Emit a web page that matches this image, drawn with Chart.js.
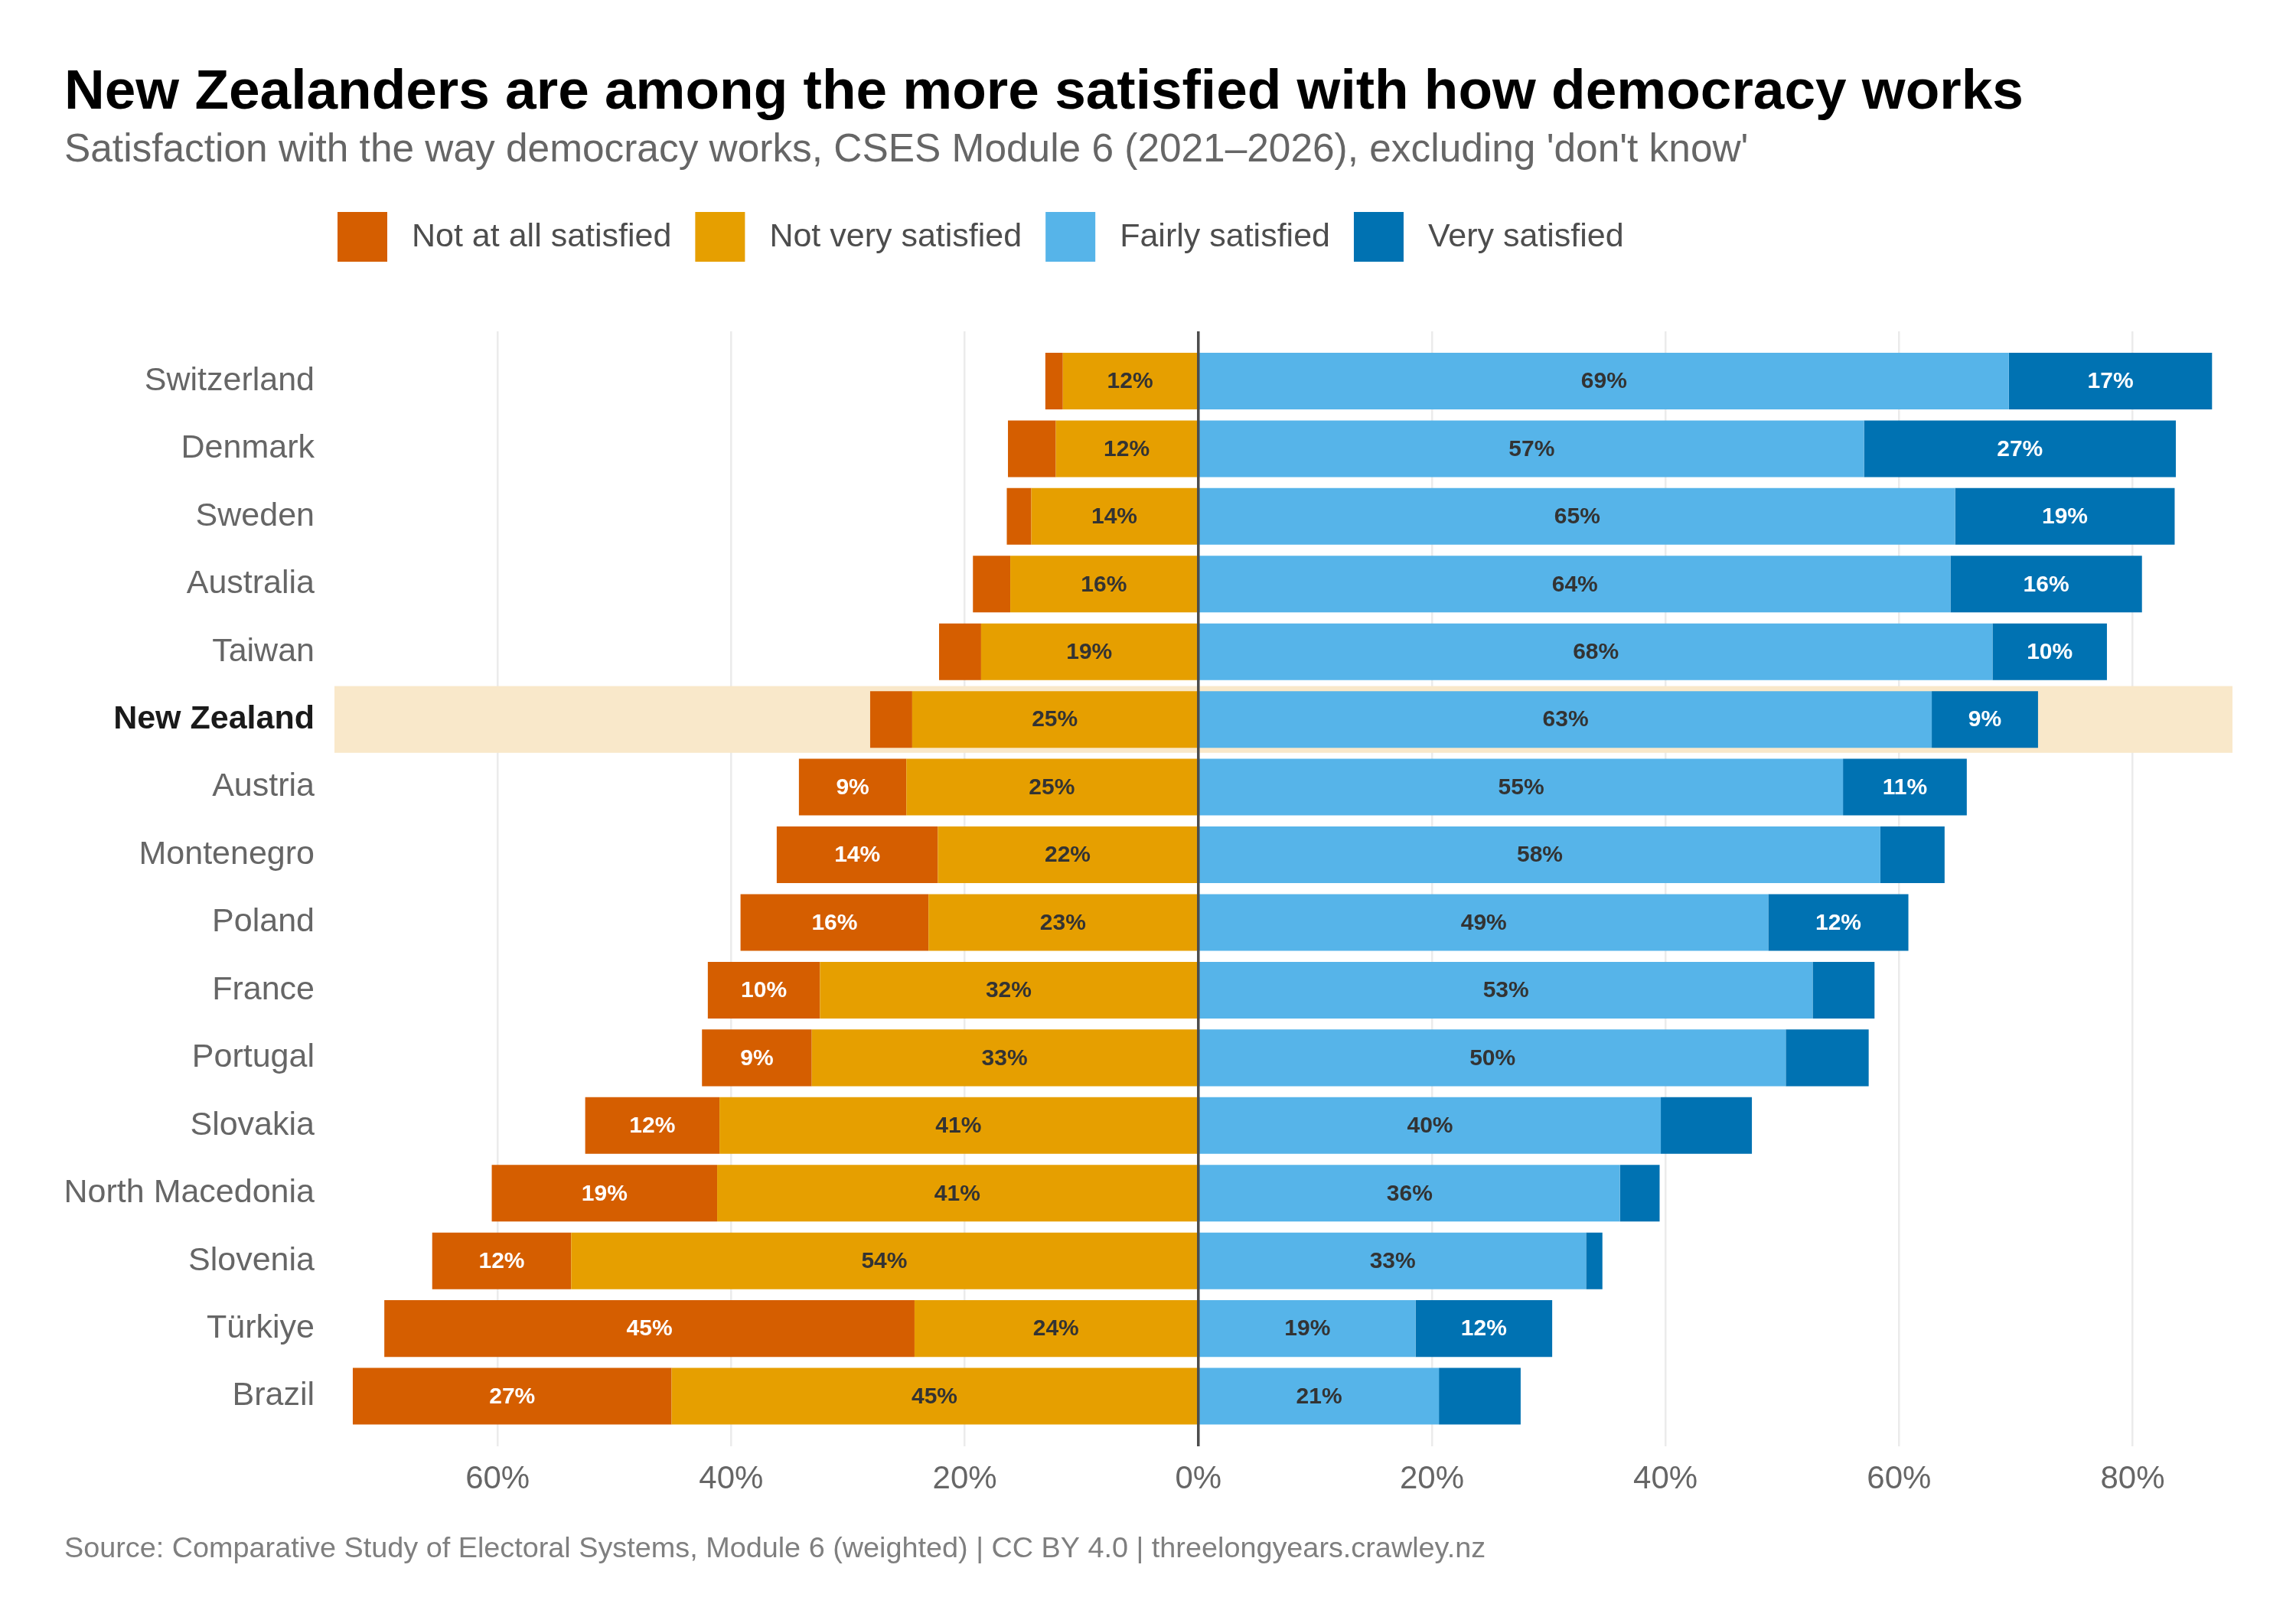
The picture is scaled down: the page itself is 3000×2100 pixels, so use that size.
<!DOCTYPE html>
<html>
<head>
<meta charset="utf-8">
<script src="https://cdn.jsdelivr.net/npm/chart.js@4.4.1/dist/chart.umd.min.js"></script>
<style>
  html, body { margin: 0; padding: 0; background: #ffffff; }
  #wrap { width: 3000px; height: 2100px; position: relative; }
  canvas { display: block; }
</style>
</head>
<body>
<div id="wrap"><canvas id="chart" width="3000" height="2100" style="width:3000px;height:2100px"></canvas></div>
<script>
// ---------------- data ----------------
const countries = ["Switzerland", "Denmark", "Sweden", "Australia", "Taiwan", "New Zealand", "Austria", "Montenegro", "Poland", "France", "Portugal", "Slovakia", "North Macedonia", "Slovenia", "Türkiye", "Brazil"];
const notAtAll  = [1.5, 4.1, 2.1, 3.2, 3.6, 3.6, 9.2, 13.8, 16.1, 9.6, 9.4, 11.5, 19.3, 11.9, 45.4, 27.3];
const notVery   = [11.6, 12.2, 14.3, 16.1, 18.6, 24.5, 25.0, 22.3, 23.1, 32.4, 33.1, 41.0, 41.2, 53.7, 24.3, 45.1];
const fairly    = [69.4, 57.0, 64.8, 64.4, 68.0, 62.8, 55.2, 58.4, 48.8, 52.6, 50.3, 39.6, 36.1, 33.2, 18.6, 20.6];
const very      = [17.4, 26.7, 18.8, 16.4, 9.8, 9.1, 10.6, 5.5, 12.0, 5.3, 7.1, 7.8, 3.4, 1.4, 11.7, 7.0];
const seriesNames  = ["Not at all satisfied", "Not very satisfied", "Fairly satisfied", "Very satisfied"];
const seriesColors = ["#D55E00", "#E69F00", "#56B4E9", "#0072B2"];
const labelColors  = ["#FFFFFF", "#333333", "#333333", "#FFFFFF"];
const xTickValues  = [-60, -40, -20, 0, 20, 40, 60, 80];
const highlightCountry = "New Zealand";

const titleText    = "New Zealanders are among the more satisfied with how democracy works";
const subtitleText = "Satisfaction with the way democracy works, CSES Module 6 (2021\u20132026), excluding 'don't know'";
const captionText  = "Source: Comparative Study of Electoral Systems, Module 6 (weighted) | CC BY 4.0 | threelongyears.crawley.nz";

// ---------------- chart ----------------
const FONT = "'Liberation Sans', Arial, Helvetica, sans-serif";
const hiIndex = countries.indexOf(highlightCountry);
const LABEL_MIN = 8;

function pts(arr, sign) { return arr.map((v, i) => ({ x: sign * v, y: i, raw: v })); }

const datasets = [
  // negative side: first dataset stacks next to zero
  { label: seriesNames[1], data: pts(notVery, -1), backgroundColor: seriesColors[1], sIdx: 1 },
  { label: seriesNames[0], data: pts(notAtAll, -1), backgroundColor: seriesColors[0], sIdx: 0 },
  { label: seriesNames[2], data: pts(fairly, 1), backgroundColor: seriesColors[2], sIdx: 2 },
  { label: seriesNames[3], data: pts(very, 1), backgroundColor: seriesColors[3], sIdx: 3 }
];

const highlightPlugin = {
  id: 'highlightBand',
  beforeDatasetsDraw(chart) {
    const { ctx, chartArea, scales } = chart;
    const y0 = scales.y.getPixelForValue(hiIndex - 0.493);
    const y1 = scales.y.getPixelForValue(hiIndex + 0.493);
    ctx.save();
    ctx.fillStyle = "#F9E8CA";
    ctx.fillRect(chartArea.left, Math.min(y0, y1), chartArea.right - chartArea.left, Math.abs(y1 - y0));
    ctx.restore();
  }
};

const overlayPlugin = {
  id: 'overlay',
  afterDatasetsDraw(chart) {
    const { ctx, chartArea, scales } = chart;
    // zero line
    const x0 = scales.x.getPixelForValue(0);
    ctx.save();
    ctx.strokeStyle = "#4D4D4D";
    ctx.lineWidth = 3.5;
    ctx.beginPath();
    ctx.moveTo(x0, chartArea.top);
    ctx.lineTo(x0, chartArea.bottom);
    ctx.stroke();
    // value labels
    ctx.font = "bold 30px " + FONT;
    ctx.textAlign = "center";
    ctx.textBaseline = "middle";
    chart.data.datasets.forEach((ds, di) => {
      const meta = chart.getDatasetMeta(di);
      meta.data.forEach((bar, i) => {
        const v = ds.data[i].raw;
        if (v < LABEL_MIN) return;
        ctx.fillStyle = labelColors[ds.sIdx];
        ctx.fillText(Math.round(v) + "%", (bar.x + bar.base) / 2, bar.y + 1);
      });
    });
    ctx.restore();
  },
  afterDraw(chart) {
    const { ctx } = chart;
    ctx.save();
    // legend
    const boxTop = 277, box = 65, gapText = 32, gapItem = 31;
    let x = 441;
    ctx.font = "43px " + FONT;
    ctx.textBaseline = "middle";
    ctx.textAlign = "left";
    for (let k = 0; k < seriesNames.length; k++) {
      ctx.fillStyle = seriesColors[k];
      ctx.fillRect(x, boxTop, box, box);
      x += box + gapText;
      ctx.fillStyle = "#4D4D4D";
      ctx.fillText(seriesNames[k], x, boxTop + box / 2 + 1);
      x += ctx.measureText(seriesNames[k]).width + gapItem;
    }
    // caption
    ctx.font = "37.8px " + FONT;
    ctx.fillStyle = "#7F7F7F";
    ctx.textBaseline = "alphabetic";
    ctx.fillText(captionText, 84, 2035);
    ctx.restore();
  }
};

new Chart(document.getElementById('chart'), {
  type: 'bar',
  data: { datasets },
  options: {
    indexAxis: 'y',
    responsive: false,
    animation: false,
    devicePixelRatio: 1,
    categoryPercentage: 1.0,
    barPercentage: 0.837,
    layout: { padding: { left: 84, right: 83, top: 0, bottom: 130 } },
    scales: {
      x: {
        type: 'linear',
        stacked: true,
        offset: false,
        min: -73.97,
        max: 88.55,
        border: { display: false },
        grid: { color: "#EBEBEB", lineWidth: 2.5, drawTicks: false, offset: false },
        ticks: {
          stepSize: 20,
          includeBounds: false,
          padding: 18,
          color: "#666666",
          font: { size: 42, family: FONT },
          callback: (v) => xTickValues.includes(v) ? Math.abs(v) + "%" : ""
        },
        afterFit: (s) => { s.height = 80; }
      },
      y: {
        type: 'linear',
        stacked: true,
        reverse: true,
        offset: false,
        min: -0.735,
        max: 15.74,
        border: { display: false },
        grid: { display: false, drawTicks: false, offset: false },
        ticks: {
          stepSize: 1,
          includeBounds: false,
          autoSkip: false,
          padding: 26,
          color: (c) => (c.tick && c.tick.value === hiIndex) ? "#1A1A1A" : "#666666",
          font: (c) => ({ size: 43, family: FONT, weight: (c.tick && c.tick.value === hiIndex) ? 'bold' : 'normal' }),
          callback: (v) => (Number.isInteger(v) && countries[v] !== undefined) ? countries[v] : ""
        },
        afterFit: (s) => { s.width = 353; }
      }
    },
    plugins: {
      legend: { display: false },
      tooltip: { enabled: false },
      title: {
        display: true,
        text: titleText,
        align: 'start',
        color: "#000000",
        font: { size: 73, weight: 'bold', family: FONT, lineHeight: 1.2 },
        padding: { top: 78, bottom: 0 }
      },
      subtitle: {
        display: true,
        text: subtitleText,
        align: 'start',
        color: "#666666",
        font: { size: 51.4, family: FONT, lineHeight: 1.2 },
        padding: { top: 0, bottom: 205.7 }
      }
    }
  },
  plugins: [highlightPlugin, overlayPlugin]
});
</script>
</body>
</html>
